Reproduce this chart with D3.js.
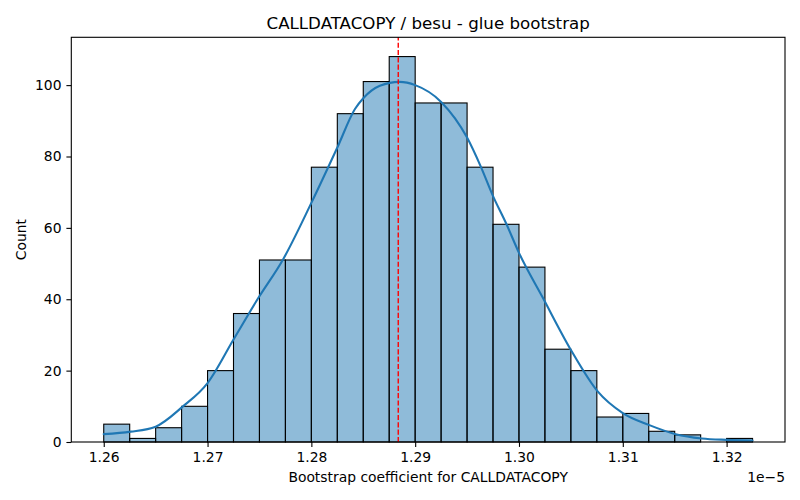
<!DOCTYPE html>
<html>
<head>
<meta charset="utf-8">
<script src="https://cdn.jsdelivr.net/npm/d3@7"></script>
<style>
  html, body { margin: 0; padding: 0; background: #fff; }
  svg { display: block; font-family: "DejaVu Sans", sans-serif; }
</style>
</head>
<body>
<svg id="chart" width="800" height="500"></svg>
<script>
// ---- data (x values in units of 1e-5) ----
const binStart = 1.26;
const binWidth = 0.0025;
const counts = [5, 1, 4, 10, 20, 36, 51, 51, 77, 92, 101, 108, 95, 95, 77, 61, 49, 26, 20, 7, 8, 3, 2, 0, 1];
const kdeX = [1.2600, 1.2626, 1.2650, 1.2676, 1.2700, 1.2725, 1.2749, 1.2773, 1.2800, 1.2825, 1.2842, 1.2850, 1.2866, 1.2885, 1.2900, 1.2925, 1.2950, 1.2963, 1.2975, 1.2988, 1.3000, 1.3023, 1.3050, 1.3076, 1.3100, 1.3125, 1.3151, 1.3176, 1.3200, 1.3225];
const kdeY = [2.2, 2.9, 4.3, 9.9, 16.5, 28.7, 40.4, 51.3, 67.0, 82.5, 93.3, 96.3, 99.8, 100.9, 100.0, 95.3, 85.3, 77.3, 68.9, 61.0, 53.0, 40.4, 25.8, 14.1, 8.1, 4.8, 2.2, 1.0, 0.6, 0.4];
const meanValue = 1.28837;
const xTicks = [1.26, 1.27, 1.28, 1.29, 1.30, 1.31, 1.32];
const yTicks = [0, 20, 40, 60, 80, 100];
const title = "CALLDATACOPY / besu - glue bootstrap";
const xLabel = "Bootstrap coefficient for CALLDATACOPY";
const yLabel = "Count";
const offsetLabel = "1e\u22125";

// ---- layout ----
const L = 71.3, R = 785, T = 37.3, B = 442;
const FS = "13.89px", TFS = "16.67px";
const svg = d3.select("#chart");

const binEnd = binStart + binWidth * counts.length;
const xPad = (binEnd - binStart) * 0.05;
const x = d3.scaleLinear().domain([binStart - xPad, binEnd + xPad]).range([L, R]);
const yMax = d3.max(counts) * 1.05;
const y = d3.scaleLinear().domain([0, yMax]).range([B, T]);

const bins = counts.map((c, i) => ({ x0: binStart + i * binWidth, x1: binStart + (i + 1) * binWidth, c }));

// bars
svg.append("g").selectAll("rect").data(bins).join("rect")
  .attr("x", d => x(d.x0))
  .attr("y", d => y(d.c))
  .attr("width", d => x(d.x1) - x(d.x0))
  .attr("height", d => y(0) - y(d.c))
  .attr("fill", "#1f77b4").attr("fill-opacity", 0.5)
  .attr("stroke", "#000").attr("stroke-width", 1.1);

// kde
const kde = kdeX.map((v, i) => [v, kdeY[i]]);
svg.append("path").datum(kde)
  .attr("fill", "none").attr("stroke", "#1f77b4").attr("stroke-width", 2.1)
  .attr("stroke-linecap", "round")
  .attr("d", d3.line().x(d => x(d[0])).y(d => y(d[1])).curve(d3.curveMonotoneX));

// mean line
svg.append("line")
  .attr("x1", x(meanValue)).attr("x2", x(meanValue))
  .attr("y1", y(0)).attr("y2", T)
  .attr("stroke", "red").attr("stroke-width", 1.4)
  .attr("stroke-dasharray", "5.1,2.2");

// axes
const xAxis = d3.axisBottom(x).tickValues(xTicks).tickFormat(d3.format(".2f")).tickSize(4.9).tickPadding(4.9);
const yAxis = d3.axisLeft(y).tickValues(yTicks).tickFormat(d3.format("d")).tickSize(4.9).tickPadding(4.9);

const gx = svg.append("g").attr("transform", `translate(0,${B})`).call(xAxis);
const gy = svg.append("g").attr("transform", `translate(${L},0)`).call(yAxis);
[gx, gy].forEach(g => {
  g.select(".domain").remove();
  g.selectAll(".tick line").attr("stroke", "#000").attr("stroke-width", 1.1);
  g.selectAll(".tick text").attr("fill", "#000").style("font-size", FS).style("font-family", "DejaVu Sans");
});

// frame
svg.append("rect").attr("x", L).attr("y", T).attr("width", R - L).attr("height", B - T)
  .attr("fill", "none").attr("stroke", "#000").attr("stroke-width", 1.1);

// texts
svg.append("text").attr("x", (L + R) / 2).attr("y", 29).attr("text-anchor", "middle")
  .style("font-size", TFS).attr("fill", "#000").text(title);
svg.append("text").attr("x", (L + R) / 2).attr("y", 482).attr("text-anchor", "middle")
  .style("font-size", FS).attr("fill", "#000").text(xLabel);
svg.append("text").attr("x", R).attr("y", 482).attr("text-anchor", "end")
  .style("font-size", FS).attr("fill", "#000").text(offsetLabel);
svg.append("text").attr("transform", `translate(26,${(T + B) / 2}) rotate(-90)`).attr("text-anchor", "middle")
  .style("font-size", FS).attr("fill", "#000").text(yLabel);
</script>
</body>
</html>
